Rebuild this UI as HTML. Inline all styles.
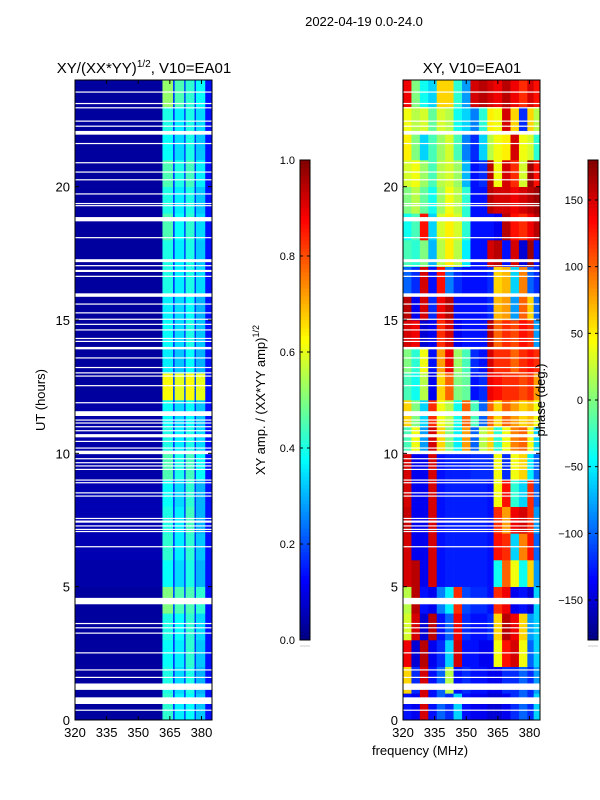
<!DOCTYPE html>
<html><head><meta charset="utf-8"><style>
html,body{margin:0;padding:0;background:#fff;}
svg{display:block;font-family:"Liberation Sans","DejaVu Sans",sans-serif;}
</style></head><body>
<svg id="fig" width="600" height="800" viewBox="0 0 600 800" xmlns="http://www.w3.org/2000/svg">
<text x="364" y="26" font-size="13" text-anchor="middle">2022-04-19 0.0-24.0</text>
<text x="144" y="73" font-size="15" text-anchor="middle">XY/(XX*YY)<tspan font-size="10" dy="-6">1/2</tspan><tspan dy="6">, V10=EA01</tspan></text>
<text x="472" y="73" font-size="15" text-anchor="middle">XY, V10=EA01</text>
<text x="45" y="400" font-size="13" text-anchor="middle" transform="rotate(-90 45 400)">UT (hours)</text>
<text x="420" y="755" font-size="13" text-anchor="middle">frequency (MHz)</text>
<text x="265" y="400" font-size="13" text-anchor="middle" transform="rotate(-90 265 400)">XY amp. / (XX*YY amp)<tspan font-size="9" dy="-6">1/2</tspan></text>
<g id="layers"></g>
<text x="545" y="400" font-size="13" text-anchor="middle" transform="rotate(-90 545 400)">phase (deg.)</text>
</svg>
<script>
// ---- data ----
var hourEdges = [0,1,2,3,4,5,6,7,8,9,10,11,12,13,14,15,16,17,18,19,20,21,22,23,24];
var ampFreqEdges = [320,361.5,366.5,367.3,371.8,372.5,376.7,377.4,381.8,385];
var ampRows = [
[0.03,0.42,0.18,0.36,0.18,0.38,0.18,0.32,0.14],
[0.03,0.40,0.18,0.34,0.18,0.40,0.18,0.30,0.14],
[0.03,0.38,0.18,0.36,0.18,0.42,0.18,0.32,0.14],
[0.03,0.40,0.18,0.38,0.18,0.42,0.18,0.34,0.14],
[0.03,0.50,0.2,0.45,0.18,0.45,0.18,0.42,0.14],
[0.04,0.38,0.18,0.34,0.18,0.40,0.18,0.30,0.14],
[0.05,0.42,0.18,0.36,0.18,0.42,0.18,0.32,0.14],
[0.05,0.40,0.18,0.36,0.18,0.44,0.18,0.30,0.14],
[0.05,0.38,0.18,0.34,0.18,0.42,0.18,0.30,0.14],
[0.04,0.45,0.2,0.40,0.18,0.44,0.18,0.38,0.14],
[0.04,0.40,0.18,0.36,0.18,0.40,0.18,0.34,0.14],
[0.04,0.38,0.18,0.34,0.18,0.38,0.18,0.32,0.14],
[0.03,0.62,0.20,0.60,0.20,0.62,0.20,0.60,0.14],
[0.03,0.36,0.18,0.32,0.18,0.38,0.18,0.30,0.14],
[0.03,0.38,0.18,0.34,0.18,0.40,0.18,0.32,0.14],
[0.03,0.36,0.18,0.34,0.18,0.38,0.18,0.30,0.14],
[0.03,0.40,0.18,0.36,0.18,0.40,0.18,0.34,0.14],
[0.03,0.40,0.18,0.36,0.18,0.40,0.18,0.32,0.14],
[0.03,0.45,0.18,0.38,0.18,0.42,0.18,0.34,0.14],
[0.03,0.40,0.18,0.36,0.18,0.40,0.18,0.32,0.14],
[0.03,0.45,0.18,0.40,0.18,0.44,0.18,0.36,0.14],
[0.03,0.38,0.18,0.34,0.18,0.40,0.18,0.32,0.14],
[0.03,0.40,0.18,0.36,0.18,0.40,0.18,0.34,0.14],
[0.03,0.52,0.18,0.45,0.18,0.42,0.18,0.38,0.14]
];
var phaseFreqEdges = [320,324,328,332,336,340,344,348,352,356,360,363,367,371,375,379,382,385];
var phaseRows = [
[-130,-140,150,-130,-100,-120,-60,-130,-140,-140,-150,-150,-140,-120,-100,-120,-60],
[60,-120,150,-130,-100,20,-130,-120,-130,-130,-140,-140,-120,-120,-100,-120,-80],
[140,-150,160,-140,-120,-60,150,-130,-130,-140,-140,40,130,150,40,-100,-60],
[30,150,-150,160,-130,-100,140,-120,-130,-130,-120,60,160,140,60,-80,-60],
[20,160,-130,-140,-90,-50,120,-110,-120,-120,-130,120,140,-140,-130,-150,-60],
[150,160,-140,150,-130,-125,-125,-125,-125,-125,-130,-40,100,40,-40,60,-80],
[150,-140,-140,150,-130,-125,-125,-125,-125,-125,-130,130,120,-60,90,130,-100],
[155,-140,-140,150,-130,-125,-125,-125,-125,-125,-130,120,80,140,150,120,-80],
[150,-140,-140,150,-130,-125,-125,-125,-125,-125,-130,40,130,-30,-60,120,-100],
[150,-140,-140,150,-130,-125,-125,-125,-120,-120,-120,40,-120,40,60,-50,-100],
[-20,40,-80,150,60,0,-50,80,-100,20,60,-30,40,90,100,40,-60],
[60,0,-60,120,40,20,-40,100,-20,-100,100,60,100,80,60,70,40],
[-20,-40,20,-140,60,100,0,-10,-130,-120,140,130,120,120,110,120,80],
[0,-30,40,-130,80,140,10,-20,-120,-130,150,120,120,100,120,130,120],
[150,140,-150,-140,120,150,-140,-130,-130,-130,160,100,120,110,130,120,-80],
[160,-140,150,-120,140,160,-130,-130,-130,-130,-120,70,80,-80,100,60,-100],
[-100,-120,150,-130,130,-90,-120,-130,-130,-130,-120,60,70,-60,90,-100,-120],
[-20,-30,0,-70,20,50,20,-50,-130,-130,150,160,-130,150,-150,170,-130],
[-40,-20,130,-60,30,50,30,-30,-130,-130,-130,-140,160,130,120,140,160],
[0,20,-10,-40,10,40,20,-30,-130,-130,160,150,150,140,150,160,170],
[30,40,10,-20,20,30,10,-70,-130,-120,160,40,150,120,30,170,130],
[50,0,-60,-20,10,30,-20,-90,-120,-60,20,40,50,150,40,30,-30],
[40,20,30,-10,30,20,-40,-60,-90,-30,50,40,150,60,-120,60,20],
[140,0,-40,-60,60,60,-30,-80,150,160,150,140,160,140,120,150,130]
];
var gapStart = [23.53,23.1,22.94,22.44,22.25,21.95,21.6,20.88,20.53,20.24,19.71,19.35,19.27,18.7,18.07,17.17,17.02,16.8,16.62,15.87,15.58,15.25,15.01,14.82,14.61,14.29,14.18,13.9,13.56,13.2,13.0,12.88,12.52,11.88,11.4,11.23,11.12,10.98,10.83,10.6,10.43,10.18,9.97,9.78,9.63,9.51,9.38,8.98,8.88,8.5,8.38,7.54,7.4,7.26,7.13,7.05,6.48,4.34,3.6,3.44,3.24,2.5,1.86,1.58,1.13,0.6,0.35];
var gapEnd   = [23.57,23.14,22.98,22.48,22.29,22.09,21.64,20.92,20.57,20.28,19.75,19.39,19.31,18.86,18.11,17.28,17.06,16.88,16.66,16.0,15.62,15.29,15.05,14.86,14.65,14.33,14.22,13.99,13.6,13.24,13.04,12.92,12.56,11.92,11.58,11.27,11.16,11.02,10.87,10.72,10.47,10.22,10.1,9.82,9.67,9.55,9.42,9.02,8.92,8.54,8.42,7.58,7.48,7.3,7.17,7.09,6.52,4.58,3.64,3.48,3.28,2.54,1.9,1.62,1.37,0.85,0.39];
var xTickValues = [320,335,350,365,380];
var yTickValues = [0,5,10,15,20];
var ampTickValues = [0.0,0.2,0.4,0.6,0.8,1.0];
var ampTickLabels = ["0.0","0.2","0.4","0.6","0.8","1.0"];
var phaseTickValues = [-150,-100,-50,0,50,100,150];
var phaseTickLabels = ["\u2212150","\u2212100","\u221250","0","50","100","150"];

// ---- layout ----
var NS = "http://www.w3.org/2000/svg";
var layers = document.getElementById('layers');
var Y0 = 720, Y1 = 80, F0 = 320, F1 = 385;
function yScale(h){ return Y0 + (Y1 - Y0) * h / 24; }
function makeX(x0, x1){ return function(f){ return x0 + (x1 - x0) * (f - F0) / (F1 - F0); }; }
function clamp(v){ return Math.max(0, Math.min(1, v)); }
function jet(t){
  t = clamp(t);
  var r = clamp(1.5 - Math.abs(4*t - 3)), g = clamp(1.5 - Math.abs(4*t - 2)), b = clamp(1.5 - Math.abs(4*t - 1));
  return 'rgb(' + Math.round(r*255) + ',' + Math.round(g*255) + ',' + Math.round(b*255) + ')';
}
function el(tag, attrs, parent){
  var e = document.createElementNS(NS, tag);
  for (var k in attrs) e.setAttribute(k, attrs[k]);
  (parent || layers).appendChild(e);
  return e;
}

function drawPanel(name, x0, x1, freqEdges, rows, norm){
  var xs = makeX(x0, x1);
  var g = el('g', {});
  
  
  for (var i = 0; i < rows.length; i++){
    for (var j = 0; j < rows[i].length; j++){
      var xa = xs(freqEdges[j]), xb = xs(freqEdges[j+1]);
      var ya = yScale(hourEdges[i+1]), yb = yScale(hourEdges[i]);
      var c = el('rect', {x: xa, y: ya, width: xb - xa + 0.3, height: yb - ya + 0.3, fill: jet(norm(rows[i][j]))}, g);
      
      
    }
  }
  for (var k = 0; k < gapStart.length; k++){
    var gy = yScale(gapEnd[k]), gh = yScale(gapStart[k]) - gy;
    var gr = el('rect', {x: x0, y: gy, width: x1 - x0, height: Math.max(gh, 1.2), fill: '#fff'}, g);
    
    
  }
  var fr = el('rect', {x: x0, y: Y1, width: x1 - x0, height: Y0 - Y1, fill: 'none', stroke: '#000', 'stroke-width': 1}, g);
  
  
  xTickValues.forEach(function(v){
    var x = xs(v);
    el('line', {x1: x, x2: x, y1: Y0, y2: Y0 - 4, stroke: '#000'}, g);
    el('line', {x1: x, x2: x, y1: Y1, y2: Y1 + 4, stroke: '#000'}, g);
    var t = el('text', {x: x, y: Y0 + 17, 'font-size': 13, 'text-anchor': 'middle'}, g);
    t.textContent = String(v);
    
    
  });
  yTickValues.forEach(function(v){
    var y = yScale(v);
    el('line', {x1: x0, x2: x0 + 4, y1: y, y2: y, stroke: '#000'}, g);
    el('line', {x1: x1, x2: x1 - 4, y1: y, y2: y, stroke: '#000'}, g);
    var t = el('text', {x: x0 - 5, y: y + 5, 'font-size': 13, 'text-anchor': 'end'}, g);
    t.textContent = String(v);
    
    
  });
}

function drawColorbar(name, x0, vmin, vmax, tickVals, tickLabels){
  var top = 160, bot = 640, w = 10;
  var g = el('g', {});
  
  
  var n = 120;
  for (var i = 0; i < n; i++){
    var y = bot - (i + 1) * (bot - top) / n;
    el('rect', {x: x0, y: y, width: w, height: (bot - top) / n + 0.4, fill: jet((i + 0.5) / n)}, g);
  }
  el('rect', {x: x0, y: top, width: w, height: bot - top, fill: 'none', stroke: '#000'}, g);
  el('line', {x1: x0 + 0.5, x2: x0 + w - 0.5, y1: bot + 6, y2: bot + 6, stroke: '#999', 'stroke-dasharray': '1,1'}, g);
  tickVals.forEach(function(v, i){
    var y = bot - (bot - top) * (v - vmin) / (vmax - vmin);
    el('line', {x1: x0, x2: x0 + 3, y1: y, y2: y, stroke: '#000'}, g);
    el('line', {x1: x0 + w, x2: x0 + w - 3, y1: y, y2: y, stroke: '#000'}, g);
    var t = el('text', {x: x0 - 5, y: y + 4, 'font-size': 11, 'text-anchor': 'end'}, g);
    t.textContent = tickLabels[i];
    
    
  });
}

drawPanel('amplitude-heatmap', 75, 212, ampFreqEdges, ampRows, function(v){ return v; });
drawPanel('phase-heatmap', 403, 540, phaseFreqEdges, phaseRows, function(v){ return (v + 180) / 360; });
drawColorbar('amplitude-colorbar', 300, 0, 1, ampTickValues, ampTickLabels);
drawColorbar('phase-colorbar', 588, -180, 180, phaseTickValues, phaseTickLabels);
</script>
</body></html>
